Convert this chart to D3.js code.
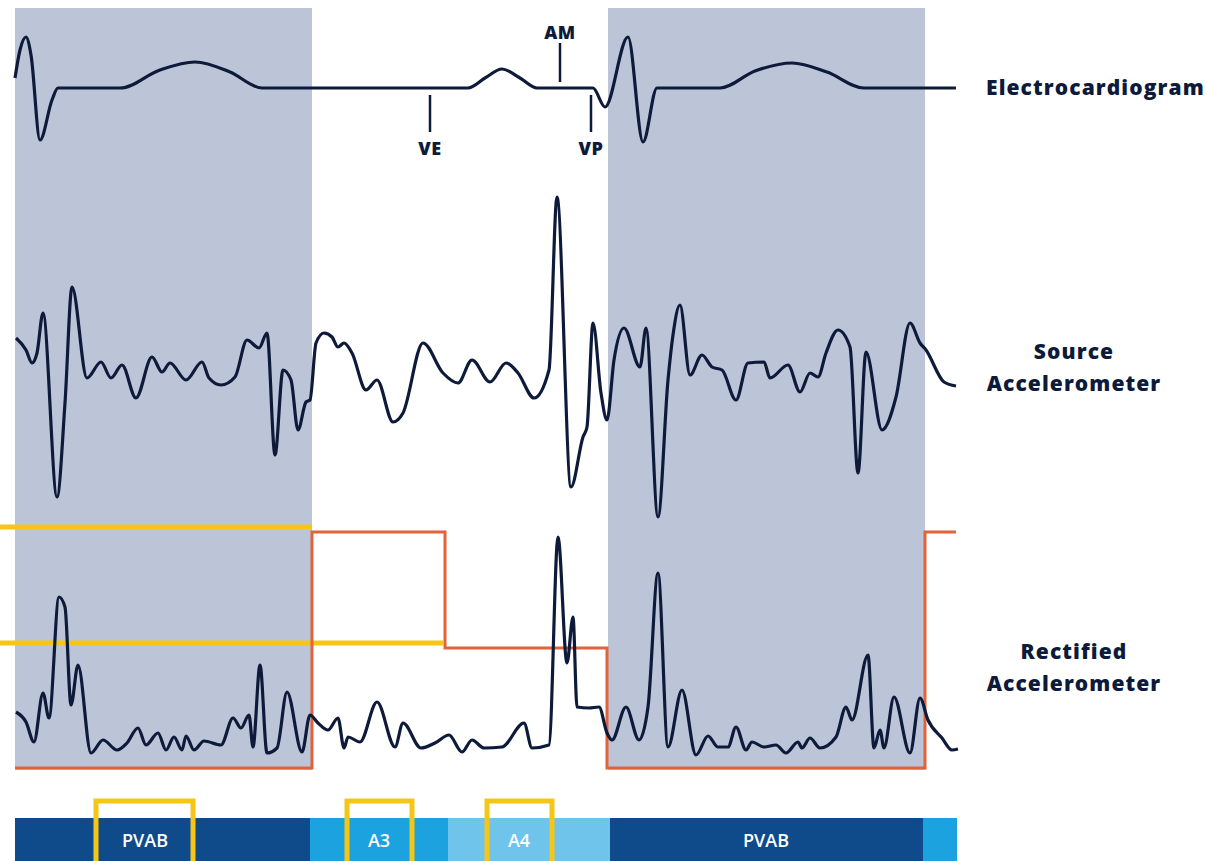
<!DOCTYPE html>
<html>
<head>
<meta charset="utf-8">
<script src="https://cdn.jsdelivr.net/npm/d3@7"></script>
<style>
  body { margin: 0; background: #fff; }
  svg { display: block; font-family: "Open Sans", sans-serif; }
</style>
</head>
<body>
<svg id="chart"></svg>
<script>
// time in ms, amplitudes in arbitrary units
const ecg = [
  [0, 10], [5, 38], [11, 51], [16, 33], [25, -52], [37, -12], [43, 0],
  [105, 0], [145, 18], [180, 26], [215, 16], [247, 0],
  [453, 0], [470, 10], [487, 19], [505, 10], [522, 0],
  [578, 0], [590, -19], [613, 51], [628, -54], [642, 0],
  [705, 0], [740, 17], [777, 25], [812, 16], [849, 0], [941, 0]
];

const sourceAccel = [
  [1, 13.5], [11, 7.5], [17, 1], [22, 6], [28, 26], [42, -66], [50, -19], [57, 39],
  [72, -6.5], [86, 1.5], [96, -6.5], [107, 0], [121, -16.5], [137, 4], [147, -3.5],
  [155, 1], [171, -7.5], [187, 1.5], [194, -6.5], [206, -10], [220, -6], [232, 12.5],
  [244, 8.5], [252, 16], [260, -45], [268, -2.5], [276, -7.5], [283, -32.5], [291, -18.5],
  [295, -17.5], [301, 11], [309, 16], [317, 14], [323, 9], [329, 11], [337, 6],
  [351, -12.5], [362, -7.5], [378, -28.5], [388, -24], [408, 11], [428, -4], [443, -9],
  [457, 2.5], [475, -8.5], [491, 1], [503, -4], [519, -16.5], [534, -2.5], [542, 84],
  [556, -61], [568, -36], [572, -31], [578, 21], [586, -14], [592, -27.5], [599, 2.5],
  [609, 18.5], [625, -1], [631, 18.5], [643, -76], [653, -7.5], [658, 15], [665, 30],
  [675, -5], [687, 5], [697, -1], [707, -2.5], [721, -17.5], [733, 1], [749, 1.5],
  [755, -6.5], [773, 0], [785, -13.5], [795, -4], [803, -6], [811, 6], [823, 17.5],
  [835, 9], [843, -54], [851, 6.5], [867, -32.5], [881, -16], [895, 21], [905, 11],
  [911, 7.5], [929, -8.5], [941, -10.5]
];

const rectifiedAccel = [
  [1, 28], [11, 23], [19, 13], [28, 37.5], [34, 25], [44, 85.5], [50, 80.5], [56, 31.5],
  [63, 51.5], [76, 7.5], [88, 14], [102, 9], [112, 12.5], [123, 20], [131, 11.5],
  [143, 17.5], [151, 9], [159, 15.5], [167, 9], [171, 16], [179, 9], [189, 13.5],
  [206, 11.5], [218, 25], [226, 20], [234, 26.5], [238, 10.5], [245, 51.5], [252, 7.5],
  [262, 10], [272, 38], [287, 8], [295, 26.5], [303, 22.5], [313, 19], [323, 25],
  [329, 10], [333, 15.5], [345, 13], [362, 33], [380, 10.5], [388, 22.5], [406, 10],
  [420, 12.5], [434, 16.5], [447, 8], [457, 14], [469, 10], [487, 10.5], [509, 22.5],
  [517, 10], [534, 11.5], [543, 115.5], [552, 52.5], [558, 75.5], [562, 30.5], [574, 30],
  [584, 30.5], [592, 17.5], [597, 14], [611, 30.5], [624, 14], [633, 30.5], [643, 97.5],
  [653, 10.5], [667, 39], [681, 6.5], [693, 16], [703, 10.5], [713, 10.5], [721, 20.5],
  [731, 9], [737, 13], [749, 10.5], [761, 11.5], [771, 7.5], [783, 13], [787, 10],
  [795, 15], [805, 10], [821, 15.5], [831, 30.5], [837, 24], [853, 56.5], [859, 10],
  [865, 19], [869, 10], [879, 35.5], [895, 7.5], [905, 35], [913, 24], [927, 15],
  [937, 9], [943, 9.5]
];

// sensing threshold (step after each point)
const threshold = [[0, 0], [297, 118], [430, 60], [592, 0], [910, 118], [941, 118]];

const limitLines = [
  {from: -15, to: 297, level: 120.5},
  {from: -15, to: 428, level: 62.5}
];

const blankingWindows = [
  {start: 0, end: 297},
  {start: 593, end: 910}
];

const markers = [
  {label: "VE", t: 415, side: "below"},
  {label: "AM", t: 545, side: "above"},
  {label: "VP", t: 576, side: "below"}
];

const periods = [
  {label: "PVAB", start: 0, end: 295, kind: "pvab", labelAt: 130, boxed: [81, 178]},
  {label: "A3", start: 295, end: 433, kind: "a3", labelAt: 364, boxed: [332, 397]},
  {label: "A4", start: 433, end: 595, kind: "a4", labelAt: 504, boxed: [472, 537]},
  {label: "PVAB", start: 595, end: 908, kind: "pvab", labelAt: 751, boxed: null},
  {label: "", start: 908, end: 942, kind: "a3", labelAt: 925, boxed: null}
];

const width = 1207;
const height = 861;

const x = d3.scaleLinear().domain([0, 943]).range([15, 958]);
const yEcg = d3.scaleLinear().domain([-60, 60]).range([148, 28]);
const ySrc = d3.scaleLinear().domain([-100, 100]).range([565, 165]);
const yRect = d3.scaleLinear().domain([0, 118]).range([768, 532]);

const periodColor = d3.scaleOrdinal(["pvab", "a3", "a4"], ["#0f4b8a", "#1ca2de", "#6ec4ea"]);

const navy = "#0d1a3a";
const orange = "#e2623a";
const yellow = "#f5c518";

const svg = d3.select("#chart")
  .attr("width", width)
  .attr("height", height)
  .attr("viewBox", [0, 0, width, height]);

// shaded blanking windows
svg.append("g")
  .selectAll("rect")
  .data(blankingWindows)
  .join("rect")
  .attr("x", d => x(d.start))
  .attr("width", d => x(d.end) - x(d.start))
  .attr("y", 8)
  .attr("height", 762)
  .attr("fill", "#bcc4d8");

// ECG trace
svg.append("path")
  .datum(ecg)
  .attr("fill", "none")
  .attr("stroke", navy)
  .attr("stroke-width", 3.2)
  .attr("stroke-linejoin", "round")
  .attr("d", d3.line().x(d => x(d[0])).y(d => yEcg(d[1])).curve(d3.curveMonotoneX));

// event markers
const mk = svg.append("g")
  .selectAll("g")
  .data(markers)
  .join("g")
  .attr("transform", d => `translate(${x(d.t)},${yEcg(0)})`);

mk.append("line")
  .attr("y1", d => d.side === "above" ? -6 : 7)
  .attr("y2", d => d.side === "above" ? -45 : 44)
  .attr("stroke", navy)
  .attr("stroke-width", 2.5);

mk.append("text")
  .attr("y", d => d.side === "above" ? -49 : 67)
  .attr("text-anchor", "middle")
  .attr("font-size", 18)
  .attr("font-weight", 800)
  .attr("letter-spacing", 0.5)
  .attr("fill", navy)
  .text(d => d.label);

// source accelerometer
svg.append("path")
  .datum(sourceAccel)
  .attr("fill", "none")
  .attr("stroke", navy)
  .attr("stroke-width", 3.2)
  .attr("stroke-linejoin", "round")
  .attr("d", d3.line().x(d => x(d[0])).y(d => ySrc(d[1])).curve(d3.curveMonotoneX));

// limit lines
svg.append("g")
  .selectAll("line")
  .data(limitLines)
  .join("line")
  .attr("x1", d => x(d.from))
  .attr("x2", d => x(d.to))
  .attr("y1", d => yRect(d.level))
  .attr("y2", d => yRect(d.level))
  .attr("stroke", yellow)
  .attr("stroke-width", 5);

// threshold
svg.append("path")
  .datum(threshold)
  .attr("fill", "none")
  .attr("stroke", orange)
  .attr("stroke-width", 3)
  .attr("d", d3.line().x(d => x(d[0])).y(d => yRect(d[1])).curve(d3.curveStepAfter));

// rectified accelerometer
svg.append("path")
  .datum(rectifiedAccel)
  .attr("fill", "none")
  .attr("stroke", navy)
  .attr("stroke-width", 3.2)
  .attr("stroke-linejoin", "round")
  .attr("d", d3.line().x(d => x(d[0])).y(d => yRect(d[1])).curve(d3.curveMonotoneX));

// trace labels
svg.append("text")
  .attr("x", 986)
  .attr("y", yEcg(0) + 7)
  .attr("font-size", 21)
  .attr("font-weight", 800)
  .attr("letter-spacing", 1.1)
  .attr("fill", navy)
  .text("Electrocardiogram");

const traceLabels = [
  {lines: ["Source", "Accelerometer"], y: 352},
  {lines: ["Rectified", "Accelerometer"], y: 652}
];

svg.append("g")
  .selectAll("text")
  .data(traceLabels)
  .join("text")
  .attr("x", 1074)
  .attr("y", d => d.y + 7)
  .attr("text-anchor", "middle")
  .attr("font-size", 21)
  .attr("font-weight", 800)
  .attr("letter-spacing", 1.1)
  .attr("fill", navy)
  .selectAll("tspan")
  .data(d => d.lines)
  .join("tspan")
  .attr("x", 1074)
  .attr("dy", (d, i) => i === 0 ? 0 : 32)
  .text(d => d);

// timing bar
const bar = svg.append("g");

bar.selectAll("rect")
  .data(periods)
  .join("rect")
  .attr("x", d => x(d.start))
  .attr("width", d => x(d.end) - x(d.start))
  .attr("y", 818)
  .attr("height", 43)
  .attr("fill", d => periodColor(d.kind));

bar.selectAll("text")
  .data(periods)
  .join("text")
  .attr("x", d => x(d.labelAt))
  .attr("y", 847)
  .attr("text-anchor", "middle")
  .attr("font-size", 18)
  .attr("font-weight", 600)
  .attr("fill", "#fff")
  .text(d => d.label);

bar.selectAll(".box")
  .data(periods.filter(d => d.boxed))
  .join("rect")
  .attr("class", "box")
  .attr("x", d => x(d.boxed[0]))
  .attr("width", d => x(d.boxed[1]) - x(d.boxed[0]))
  .attr("y", 801)
  .attr("height", 65)
  .attr("fill", "none")
  .attr("stroke", yellow)
  .attr("stroke-width", 5);
</script>
</body>
</html>
